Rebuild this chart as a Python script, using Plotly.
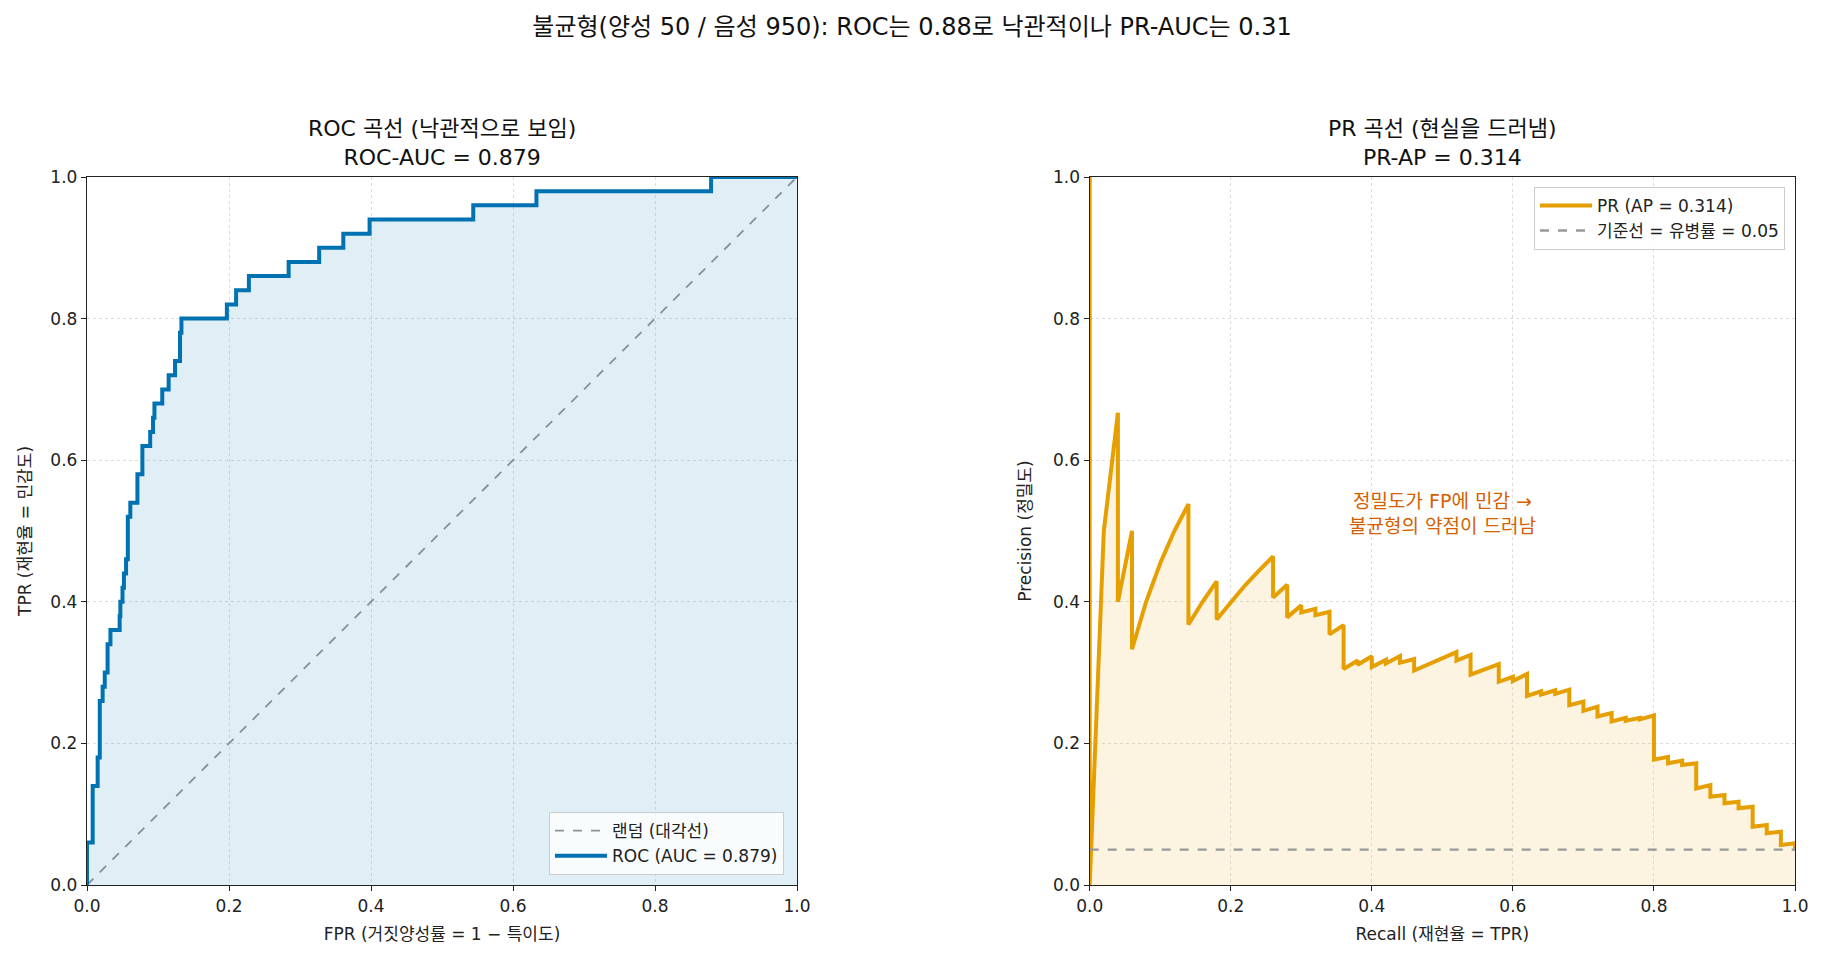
import plotly.graph_objects as go

# ---------------- data ----------------
roc_fpr = [0, 0, 0.008, 0.015, 0.018, 0.022, 0.025, 0.029, 0.033, 0.046, 0.047, 0.050,
           0.052, 0.055, 0.0575, 0.061, 0.071, 0.078, 0.089, 0.093, 0.095, 0.106, 0.115,
           0.124, 0.131, 0.133, 0.197, 0.210, 0.228, 0.284, 0.327, 0.361, 0.398, 0.544,
           0.633, 0.879, 1.0]
roc_tpr = [0, 0.06, 0.14, 0.18, 0.26, 0.28, 0.30, 0.34, 0.36, 0.38, 0.40, 0.42,
           0.44, 0.46, 0.52, 0.54, 0.58, 0.62, 0.64, 0.66, 0.68, 0.70, 0.72,
           0.74, 0.78, 0.80, 0.82, 0.84, 0.86, 0.88, 0.90, 0.92, 0.94, 0.96,
           0.98, 1.0, 1.0]

pr_recall = [0, 0, 0.02, 0.04, 0.04, 0.06, 0.06, 0.08, 0.10, 0.12, 0.14, 0.14,
             0.16, 0.18, 0.18, 0.20, 0.22, 0.24, 0.26, 0.26, 0.28, 0.28, 0.30, 0.30,
             0.32, 0.32, 0.34, 0.34, 0.36, 0.36, 0.38, 0.38, 0.40, 0.40, 0.42, 0.42,
             0.44, 0.44, 0.46, 0.46, 0.48, 0.50, 0.52, 0.52, 0.54, 0.54, 0.56, 0.58,
             0.58, 0.60, 0.60, 0.62, 0.62, 0.64, 0.64, 0.66, 0.66, 0.68, 0.68, 0.70,
             0.70, 0.72, 0.72, 0.74, 0.74, 0.76, 0.76, 0.78, 0.78, 0.80, 0.80, 0.82,
             0.82, 0.84, 0.84, 0.86, 0.86, 0.88, 0.88, 0.90, 0.90, 0.92, 0.92, 0.94,
             0.94, 0.96, 0.96, 0.98, 0.98, 1.0, 1.0]
pr_precision = [1.0, 0.0, 0.5, 0.667, 0.4, 0.5, 0.333, 0.4, 0.4545, 0.5, 0.538, 0.368,
                0.40, 0.429, 0.375, 0.40, 0.423, 0.444, 0.464, 0.406, 0.424, 0.378, 0.395, 0.385,
                0.390, 0.381, 0.386, 0.354, 0.367, 0.305, 0.317, 0.311, 0.323, 0.308, 0.318, 0.313,
                0.3235, 0.314, 0.319, 0.303, 0.312, 0.321, 0.329, 0.317, 0.325, 0.297, 0.304, 0.312,
                0.287, 0.294, 0.288, 0.298, 0.267, 0.2735, 0.269, 0.275, 0.270, 0.276, 0.254, 0.259,
                0.246, 0.252, 0.238, 0.243, 0.231, 0.236, 0.232, 0.236, 0.234, 0.2395, 0.177, 0.181,
                0.172, 0.1757, 0.1695, 0.172, 0.1365, 0.1412, 0.1248, 0.1271, 0.1154, 0.1177, 0.1083, 0.1106,
                0.0824, 0.0847, 0.073, 0.0753, 0.0565, 0.0589, 0.05]

diag = [0, 1]
prevalence = 0.05
roc_auc = 0.879
pr_ap = 0.314
ticks = [0.0, 0.2, 0.4, 0.6, 0.8, 1.0]

BLUE = "#0072B2"
ORANGE = "#E69F00"
VERM = "#D55E00"
FONT = "DejaVu Sans, Noto Sans CJK KR"

fig = go.Figure()

# ---- ROC panel ----
fig.add_trace(go.Scatter(x=roc_fpr, y=roc_tpr, mode="lines", line=dict(shape="hv", width=0),
                         fill="tozeroy", fillcolor="rgba(0,114,178,0.12)", showlegend=False,
                         hoverinfo="skip", xaxis="x", yaxis="y"))
fig.add_trace(go.Scatter(x=diag, y=diag, mode="lines", name="랜덤 (대각선)",
                         line=dict(color="rgba(110,120,128,0.8)", width=1.8, dash="dash"),
                         xaxis="x", yaxis="y", legend="legend"))
fig.add_trace(go.Scatter(x=roc_fpr, y=roc_tpr, mode="lines", name=f"ROC (AUC = {roc_auc:.3f})",
                         line=dict(color=BLUE, width=4, shape="hv"),
                         xaxis="x", yaxis="y", legend="legend"))

# ---- PR panel ----
fig.add_trace(go.Scatter(x=pr_recall, y=pr_precision, mode="lines", line=dict(width=0),
                         fill="tozeroy", fillcolor="rgba(230,159,0,0.12)", showlegend=False,
                         hoverinfo="skip", xaxis="x2", yaxis="y2"))
fig.add_trace(go.Scatter(x=pr_recall, y=pr_precision, mode="lines", name=f"PR (AP = {pr_ap:.3f})",
                         line=dict(color=ORANGE, width=4),
                         xaxis="x2", yaxis="y2", legend="legend2"))
fig.add_trace(go.Scatter(x=[0, 1], y=[prevalence, prevalence], mode="lines",
                         name=f"기준선 = 유병률 = {prevalence:.2f}",
                         line=dict(color="#999999", width=2.4, dash="dash"),
                         xaxis="x2", yaxis="y2", legend="legend2"))

axis_common = dict(range=[0, 1], tickvals=ticks, tickformat=".1f", showline=True, mirror=True,
                   linecolor="#222222", linewidth=1.4, ticks="outside", ticklen=5, tickwidth=1.3,
                   tickcolor="#222222", showgrid=True, gridcolor="#dddddd", griddash="dot",
                   gridwidth=1, zeroline=False, automargin=False,
                   tickfont=dict(size=17, color="#222222"),
                   title_font=dict(size=17, color="#222222"))

x1d = [87 / 1824, 797 / 1824]
x2d = [1089.7 / 1824, 1795 / 1824]

fig.update_layout(
    width=1824, height=961,
    margin=dict(l=0, r=0, t=177, b=76),
    paper_bgcolor="white", plot_bgcolor="white",
    font=dict(family=FONT, color="#222222"),
    title=dict(text="불균형(양성 50 / 음성 950): ROC는 0.88로 낙관적이나 PR-AUC는 0.31",
               x=0.5, xanchor="center", y=1 - 27 / 961, yanchor="middle", yref="container",
               font=dict(size=24, color="#111111")),
    xaxis=dict(domain=x1d, anchor="y", title=dict(text="FPR (거짓양성률 = 1 − 특이도)", standoff=13), **axis_common),
    yaxis=dict(domain=[0, 1], anchor="x", title=dict(text="TPR (재현율 = 민감도)", standoff=14), **axis_common),
    xaxis2=dict(domain=x2d, anchor="y2", title=dict(text="Recall (재현율 = TPR)", standoff=13), **axis_common),
    yaxis2=dict(domain=[0, 1], anchor="x2", title=dict(text="Precision (정밀도)", standoff=17), **axis_common),
    legend=dict(x=784 / 1824, y=0.014, xanchor="right", yanchor="bottom", itemwidth=52,
                bgcolor="rgba(255,255,255,0.8)", bordercolor="#cccccc", borderwidth=1,
                font=dict(size=17, color="#222222"), traceorder="normal"),
    legend2=dict(x=1785 / 1824, y=0.986, xanchor="right", yanchor="top", itemwidth=52,
                 bgcolor="rgba(255,255,255,0.8)", bordercolor="#cccccc", borderwidth=1,
                 font=dict(size=17, color="#222222"), traceorder="normal"),
    annotations=[
        dict(text=f"ROC 곡선 (낙관적으로 보임)<br>ROC-AUC = {roc_auc:.3f}", xref="paper", yref="paper",
             x=(x1d[0] + x1d[1]) / 2, y=1.0487, xanchor="center", yanchor="middle", showarrow=False,
             font=dict(size=22, color="#111111")),
        dict(text=f"PR 곡선 (현실을 드러냄)<br>PR-AP = {pr_ap:.3f}", xref="paper", yref="paper",
             x=(x2d[0] + x2d[1]) / 2, y=1.0487, xanchor="center", yanchor="middle", showarrow=False,
             font=dict(size=22, color="#111111")),
        dict(text="정밀도가 FP에 민감 →<br>불균형의 약점이 드러남", xref="x2", yref="y2",
             x=0.5, y=0.525, xanchor="center", yanchor="middle", showarrow=False,
             font=dict(size=19, color=VERM)),
    ],
)

fig.write_html("out.html")
